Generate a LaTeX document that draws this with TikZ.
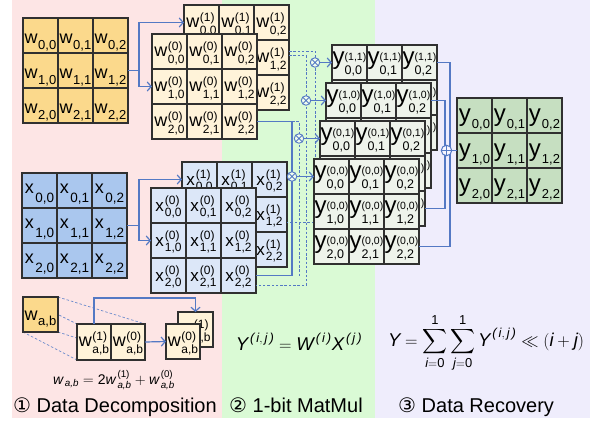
\documentclass[tikz,border=0pt]{standalone}
\usepackage{amsmath}
\usepackage{fontspec}
\setmainfont{Liberation Sans}
\newfontfamily\symfont{DejaVu Sans}
\usetikzlibrary{arrows.meta,calc}

\definecolor{bgpink}{HTML}{FDE5E5}
\definecolor{bggreen}{HTML}{DAFAD5}
\definecolor{bgviolet}{HTML}{EFEDFC}
\definecolor{wbase}{HTML}{FBD98C}
\definecolor{wbit}{HTML}{FFF3D9}
\definecolor{xbase}{HTML}{AAC7EE}
\definecolor{xbit}{HTML}{DCE7F8}
\definecolor{ypart}{HTML}{EEF3EB}
\definecolor{yres}{HTML}{C6DFC1}
\definecolor{wireblue}{HTML}{5479C4}
\definecolor{gridline}{HTML}{303030}

\pgfdeclarelayer{under}
\pgfsetlayers{under,main}

\newcommand\fs[1]{\fontsize{#1}{#1}\selectfont}
\newcommand\mi[1]{\text{\itshape #1}}
% italic superscript index with loose spacing
\newcommand\idx[1]{^{\,\mi{(}\,#1\,\mi{)}}}

% superscript stacked over subscript
\newsavebox\stkup \newsavebox\stkdn \newlength\stkwd
\newcommand\stk[4]{%
  \sbox\stkup{#1}\sbox\stkdn{#2}%
  \setlength\stkwd{\wd\stkup}%
  \ifdim\wd\stkdn>\stkwd \setlength\stkwd{\wd\stkdn}\fi
  \makebox[\stkwd][l]{\rlap{\raisebox{#3}{\usebox\stkup}}\raisebox{-#4}{\usebox\stkdn}}}

% cell entries
\newcommand\Wc[2]{\fs{18}w\kern0.5pt\raisebox{-6pt}{\fs{13}#1,#2}}
\newcommand\Xc[2]{\fs{18}x\kern1.5pt\raisebox{-9.5pt}{\fs{13.5}#1,#2}}
\newcommand\Wb[3]{\fs{18}w\kern0.5pt\stk{\fs{12}(#1)}{\fs{12}#2,#3}{6pt}{7pt}}
\newcommand\Xb[3]{\fs{17}x\kern1pt\stk{\fs{12}(#1)}{\fs{12}#2,#3}{7pt}{4.5pt}}
\newcommand\Yb[4]{\fs{24}y\stk{\fs{10.5}(#1,#2)}{\fs{12.5}#3,#4}{4.5pt}{10pt}}
\newcommand\Yc[2]{\fs{24}y\kern1pt\raisebox{-7pt}{\fs{13}#1,#2}}

% 3x3 grid of cells: name, left, top, style, entry macro
\newcommand\grid[5]{%
  \foreach \ro in {0,1,2}{\foreach \co in {0,1,2}{%
    \node[#4] (#1-\ro-\co) at ({#2+35*\co},{#3+35*\ro}) {#5{\ro}{\co}};}}}

\begin{document}
\begin{tikzpicture}[x=1pt,y=-1pt,
  cell/.style={draw=gridline, line width=1.2pt, minimum width=35pt, minimum height=35pt,
    inner sep=0pt, outer sep=0pt, anchor=north west},
  wcell/.style={cell, fill=wbase, text height=25pt, text depth=10pt},
  xcell/.style={cell, fill=xbase, text height=20pt, text depth=15pt},
  wbitcell/.style={cell, fill=wbit, text height=22.5pt, text depth=12.5pt},
  xbitcell/.style={cell, fill=xbit, text height=23.5pt, text depth=11.5pt},
  ycell/.style={cell, fill=ypart, text height=19.5pt, text depth=15.5pt},
  rescell/.style={cell, fill=yres, text height=23pt, text depth=12pt},
  wire/.style={draw=wireblue, line width=1.2pt},
  dwire/.style={draw=wireblue, line width=0.9pt, dash pattern=on 2.5pt off 1.8pt},
  proj/.style={draw=wireblue!85, line width=0.7pt, dash pattern=on 2.5pt off 2pt},
  arrowed/.style={-{Straight Barb[length=4pt,width=9pt]}},
  mul/.style={circle, draw=wireblue, line width=0.9pt, fill=bggreen!40!white,
    minimum size=9.5pt, inner sep=0pt,
    path picture={\draw[wireblue, line width=0.9pt]
      (path picture bounding box.north west) -- (path picture bounding box.south east)
      (path picture bounding box.north east) -- (path picture bounding box.south west);}},
  add/.style={circle, draw=wireblue, line width=1pt, fill=bgviolet!50!white,
    minimum size=10.5pt, inner sep=0pt,
    path picture={\draw[wireblue, line width=1pt]
      (path picture bounding box.north) -- (path picture bounding box.south)
      (path picture bounding box.east) -- (path picture bounding box.west);}},
  lab/.style={anchor=base west, inner sep=0pt, font=\fs{20}}
]
\useasboundingbox (0,0) rectangle (602,421);

% stage backgrounds
\begin{pgfonlayer}{under}
  \fill[bgpink]   (12,0)  rectangle (222,418);
  \fill[bggreen]  (222,0) rectangle (375,418);
  \fill[bgviolet] (375,0) rectangle (590,418);
\end{pgfonlayer}

% ---------- stage 1: bit decomposition ----------
\grid{W}{23}{18}{wcell}{\Wc}
\grid{Wone}{184}{5}{wbitcell}{\Wb{1}}
\grid{Wzero}{152}{34}{wbitcell}{\Wb{0}}
\coordinate (wsplit) at (139,70.5);
\draw[wire] (W-1-2.east) -- (wsplit);
\draw[wire,arrowed] (wsplit) |- (Wone-0-0.west);
\draw[wire,arrowed] (wsplit) |- (Wzero-1-0.west);

\grid{X}{22}{173}{xcell}{\Xc}
\grid{Xone}{182}{162}{xbitcell}{\Xb{1}}
\grid{Xzero}{151}{188}{xbitcell}{\Xb{0}}
\coordinate (xsplit) at (139,225.5);
\draw[wire] (X-1-2.east) -- (xsplit);
\draw[wire,arrowed] (xsplit) |- (Xone-0-0.west);
\draw[wire,arrowed] (xsplit) |- (Xzero-1-0.west);

% ---------- stage 2: 1-bit products ----------
\coordinate (mA) at (315,62.5);
\coordinate (mB) at (306,100.5);
\coordinate (mC) at (299,138.5);
\coordinate (mD) at (292,176.5);
\coordinate (dA0) at ($(Wone-1-2.north east)+(0,11)$);
\coordinate (dA1) at ($(Xone-1-2.south east)+(0,-10)$);
\coordinate (dB0) at ($(Wone-1-2.north east)+(0,15)$);
\coordinate (dB1) at ($(Xzero-2-2.south east)+(0,-7.5)$);
\coordinate (dC0) at (mD |- Wzero-2-2.east);

\draw[wire] (Wzero-2-2.east) -| (mD) |- (Xzero-2-2.east);
\draw[dwire] (dA0) -| (mA) -- (mA |- dA1) -- (dA1);
\draw[dwire] (dB0) -| (mB) -- (mB |- dB1) -- (dB1);
\draw[dwire] (dC0) -| (mC) -- (mC |- Xzero-2-2.east);

\grid{Yaa}{332}{45}{ycell}{\Yb{1}{1}}
\grid{Yab}{326}{83}{ycell}{\Yb{1}{0}}
\grid{Yba}{320}{121}{ycell}{\Yb{0}{1}}
\grid{Ybb}{314}{159}{ycell}{\Yb{0}{0}}

\node[mul] (mulA) at (mA) {};
\node[mul] (mulB) at (mB) {};
\node[mul] (mulC) at (mC) {};
\node[mul] (mulD) at (mD) {};
\draw[wire,arrowed] (mulA) -- (Yaa-0-0.west);
\draw[wire,arrowed] (mulB) -- (Yab-0-0.west);
\draw[wire,arrowed] (mulC) -- (Yba-0-0.west);
\draw[wire,arrowed] (mulD) -- (Ybb-0-0.west);

% ---------- stage 3: shift and add ----------
\draw[wire] (Yaa-0-2.east) -- ++(13,0) |- (Ybb-2-2.east);
\draw[wire] (Yab-0-2.east) -- ++(14,0) |- (Yba-2-2.east);
\node[add] (sum) at (446.5,150.5) {};
\grid{Y}{457}{98}{rescell}{\Yc}
\draw[wire] (sum) -- (Y-1-0.west);

% ---------- single element example ----------
\node[wcell, text height=23pt, text depth=12pt] (wab) at (23,297)
  {\fs{18}w\kern0.5pt\raisebox{-5pt}{\fs{13}a,b}};
\node[wbitcell, minimum width=34pt, text depth=13.5pt] (pL) at (77,324) {\Wb{1}{a}{b}};
\node[wbitcell, minimum width=34pt, text depth=13.5pt] (pR) at (111,324) {\Wb{0}{a}{b}};
\node[wbitcell] (sb) at (178,312) {\Wb{1}{a}{b}};
\node[wbitcell, minimum width=34pt] (fb) at (166,324) {\Wb{0}{a}{b}};
\begin{pgfonlayer}{under}
  \draw[proj] (wab.north west) -- (pL.north west);
  \draw[proj] (wab.north east) -- (pR.north east);
  \draw[proj] (wab.south west) -- (pL.south west);
  \draw[proj] (wab.south east) -- (pR.south east);
\end{pgfonlayer}
\draw[wire,arrowed] (pL.north) -- (pL.north |- 0,298) -| (sb.north);
\draw[wire,arrowed] (pR.east) -- (fb.west);

% ---------- formulas ----------
\node (fdec) at (114,380)
  {\fs{14}$\mi{w}_{\,\mi{a,b}}=\text{2}\mi{w}^{\,\text{(1)}}_{\,\mi{a,b}}+\mi{w}^{\,\text{(0)}}_{\,\mi{a,b}}$};
\node (fmul) at (299,342)
  {\fs{18.5}$\mi{Y}\idx{\mi{i},\,\mi{j}}=\mi{W}\idx{\mi{i}}\mi{X}\idx{\mi{j}}$};
\node (frec) at (486,343)
  {\fs{18.5}$\displaystyle\mi{Y}=\sum_{\mi{i}=\text{0}}^{\text{1}}\sum_{\mi{j}=\text{0}}^{\text{1}}\mi{Y}\idx{\mi{i},\,\mi{j}}\ll(\mi{i}+\mi{j})$};

% ---------- stage labels ----------
\node[lab] (labA) at (13,412) {{\symfont ①} Data Decomposition};
\node[lab] (labB) at (229,412) {{\symfont ②} 1-bit MatMul};
\node[lab] (labC) at (398,412) {{\symfont ③} Data Recovery};
\end{tikzpicture}
\end{document}
